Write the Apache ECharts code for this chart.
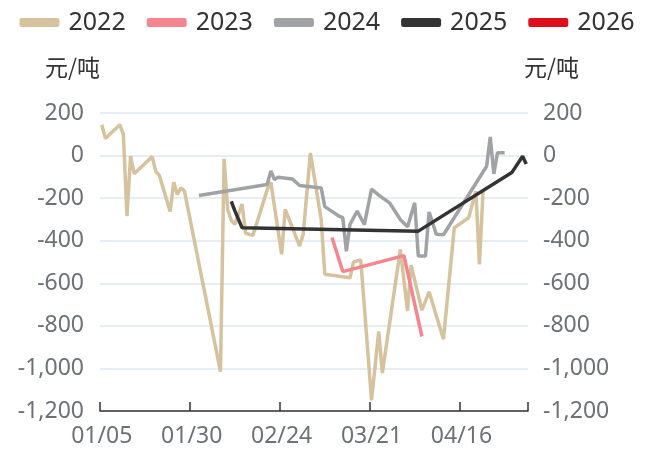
<!DOCTYPE html>
<html>
<head>
<meta charset="utf-8">
<script src="https://cdn.jsdelivr.net/npm/echarts@6/dist/echarts.min.js"></script>
<style>
html,body{margin:0;padding:0;background:#fff;}
#c{width:654px;height:454px;}
</style>
</head>
<body>
<div id="c"></div>
<script>
// Categories (MM/DD)
var categories = [
"01/05","01/06","01/07","01/08","01/09","01/10","01/11","01/12","01/13","01/14",
"01/15","01/16","01/17","01/18","01/19","01/20","01/21","01/22","01/23","01/24",
"01/25","01/26","01/27","01/28","01/29","01/30","01/31",
"02/01","02/02","02/03","02/04","02/05","02/06","02/07","02/08","02/09","02/10",
"02/11","02/12","02/13","02/14","02/15","02/16","02/17","02/18","02/19","02/20",
"02/21","02/22","02/23","02/24","02/25","02/26","02/27","02/28",
"03/01","03/02","03/03","03/04","03/05","03/06","03/07","03/08","03/09","03/10",
"03/11","03/12","03/13","03/14","03/15","03/16","03/17","03/18","03/19","03/20",
"03/21","03/22","03/23","03/24","03/25","03/26","03/27","03/28","03/29","03/30","03/31",
"04/01","04/02","04/03","04/04","04/06","04/07","04/08","04/09","04/10","04/11",
"04/12","04/13","04/14","04/15","04/16","04/17","04/18","04/19","04/20","04/21",
"04/22","04/23","04/24","04/25","04/26","04/27","04/28","04/29","04/30",
"05/01","05/02","05/03","05/04"
];

var seriesNames = ["2022","2023","2024","2025","2026"];

var data2022 = [
["01/05",145],["01/06",80],["01/10",145],["01/11",98],["01/12",-285],["01/13",-3],["01/14",-85],
["01/19",-5],["01/20",-74],["01/21",-93],["01/24",-263],["01/25",-125],["01/26",-183],["01/27",-151],["01/28",-168],
["02/07",-1015],["02/08",-15],["02/09",-253],["02/10",-305],["02/11",-323],["02/13",-228],["02/14",-365],["02/16",-375],
["02/18",-269],["02/20",-160],["02/21",-125],["02/24",-464],["02/25",-253],["03/01",-425],["03/02",-370],["03/04",12],
["03/07",-300],["03/08",-558],["03/15",-574],["03/16",-500],["03/18",-490],["03/21",-1150],["03/23",-826],["03/24",-1022],
["03/29",-441],["03/31",-730],["04/01",-515],["04/04",-726],["04/07",-640],["04/11",-863],["04/14",-339],
["04/18",-292],["04/20",-167],["04/21",-511],["04/22",-167]
];

var data2023 = [
["03/10",-385],["03/13",-545],["03/30",-470],["04/04",-850]
];

var data2024 = [
["02/01",-188],["02/20",-136],["02/21",-72],["02/22",-113],["02/23",-102],["02/27",-110],["03/01",-141],
["03/07",-152],["03/08",-240],["03/12",-285],["03/13",-292],["03/14",-450],["03/15",-324],["03/17",-261],
["03/19",-324],["03/21",-158],["03/23",-186],["03/26",-222],["03/29",-300],["03/31",-335],["04/02",-222],
["04/03",-472],["04/06",-472],["04/07",-265],["04/09",-370],["04/11",-372],["04/23",-50],["04/24",88],
["04/25",-86],["04/26",13],["04/28",13]
];

var data2025 = [
["02/10",-215],["02/11",-260],["02/13",-339],["04/03",-355],["04/30",-80],["05/03",-3],["05/04",-40]
];

var data2026 = [];

var yTicks = {min:-1200, max:200, interval:200};
var colors = ["#D5C29E","#F4868F","#A0A2A5","#333333","#DF0E1B"];

var chart = echarts.init(document.getElementById('c'));
var fmt = function(v){ return Number(v).toLocaleString('en-US'); };
var labelColor = '#6E7079';
var font = '"Noto Sans", "Noto Sans CJK SC", sans-serif';

function mk(name, data, i){
  return {
    name: name, type: 'line', data: data, showSymbol: false, symbol: 'none',
    connectNulls: true, lineStyle: {width: 3.5, color: colors[i]}, itemStyle: {color: colors[i]},
    z: 2 + i
  };
}

chart.setOption({
  animation: false,
  color: colors,
  textStyle: {fontFamily: font},
  legend: {
    data: seriesNames, top: 5, left: 'center', icon: 'roundRect',
    itemWidth: 40, itemHeight: 9, itemGap: 21,
    textStyle: {fontSize: 25, color: '#333', fontFamily: font, padding:[0,0,0,4]}
  },
  grid: {left: 100, right: 126, top: 113, bottom: 43, containLabel: false},
  xAxis: {
    type: 'category', data: categories, boundaryGap: true,
    axisLine: {onZero: false, lineStyle: {color: '#333', width: 1.5}},
    axisTick: {show: true, inside: true, length: 9, interval: 24, lineStyle: {color: '#333', width: 1.5}},
    axisLabel: {interval: 24, color: labelColor, fontSize: 23, margin: 14, fontFamily: font},
    splitLine: {show: false}
  },
  yAxis: [
    {
      type: 'value', min: yTicks.min, max: yTicks.max, interval: yTicks.interval,
      name: '元/吨', nameLocation: 'end', nameGap: 34,
      nameTextStyle: {fontSize: 23, color: '#333', align: 'right', fontFamily: '"Noto Sans CJK SC", sans-serif'},
      axisLine: {show: false}, axisTick: {show: false},
      axisLabel: {color: labelColor, fontSize: 23, margin: 16, formatter: fmt, fontFamily: font},
      splitLine: {lineStyle: {color: '#E0E6F1', width: 1.5}}
    },
    {
      type: 'value', min: yTicks.min, max: yTicks.max, interval: yTicks.interval, position: 'right',
      name: '元/吨', nameLocation: 'end', nameGap: 34,
      nameTextStyle: {fontSize: 23, color: '#333', align: 'left', padding: [0,0,0,-4], fontFamily: '"Noto Sans CJK SC", sans-serif'},
      axisLine: {show: false}, axisTick: {show: false},
      axisLabel: {color: labelColor, fontSize: 23, margin: 15, formatter: fmt, fontFamily: font},
      splitLine: {show: false}
    }
  ],
  series: [
    mk('2022', data2022, 0),
    mk('2023', data2023, 1),
    mk('2024', data2024, 2),
    mk('2025', data2025, 3),
    mk('2026', data2026, 4)
  ]
});
</script>
</body>
</html>
